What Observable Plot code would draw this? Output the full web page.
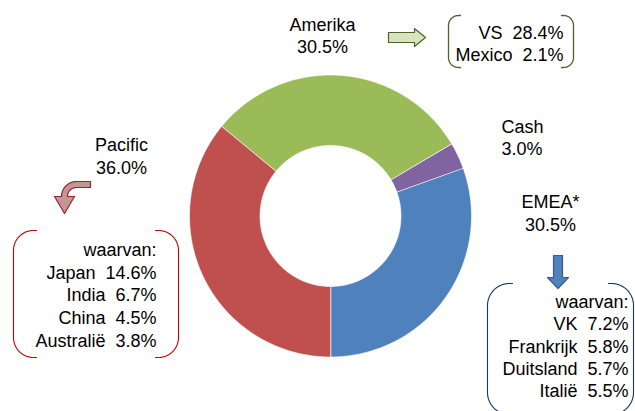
<!DOCTYPE html>
<html>
<head>
<meta charset="utf-8">
<script src="https://cdn.jsdelivr.net/npm/d3@7"></script>
<script src="https://cdn.jsdelivr.net/npm/@observablehq/plot@0.6"></script>
<style>
  html, body { margin: 0; padding: 0; background: #fff; }
  #chart svg { display: block; }
</style>
</head>
<body>
<div id="chart"></div>
<script>
// ---------- DATA ----------
const regions = ["EMEA*", "Pacific", "Amerika", "Cash"];
const shares = [30.5, 36.0, 30.5, 3.0];

const amerikaCountries = ["VS", "Mexico"];
const amerikaShares = [28.4, 2.1];

const pacificCountries = ["Japan", "India", "China", "Australië"];
const pacificShares = [14.6, 6.7, 4.5, 3.8];

const emeaCountries = ["VK", "Frankrijk", "Duitsland", "Italië"];
const emeaShares = [7.2, 5.8, 5.7, 5.5];

const breakdownHeader = "waarvan:";

// ---------- STYLE / LAYOUT ----------
const W = 635, H = 411;
const sliceColors = ["#4F81BD", "#C0504D", "#9BBB59", "#8064A2"];
const donut = {cx: 330, cy: 215.5, rOuter: 141, rInner: 70.5};
const font = "'Liberation Sans', Arial, sans-serif";
const fontSize = 18;

const fmt = v => v.toFixed(1) + "%";
const row = (name, v) => name + "\u00a0 " + fmt(v);

// text blocks: lines, anchor x, center y of first line, line step
const blocks = [
  {lines: [regions[2], fmt(shares[2])], x: 322, y: 25, step: 22, anchor: "middle"},
  {lines: [regions[1], fmt(shares[1])], x: 121, y: 145, step: 23, anchor: "middle"},
  {lines: [regions[3], fmt(shares[3])], x: 501, y: 127, step: 22, anchor: "start"},
  {lines: [regions[0], fmt(shares[0])], x: 550, y: 202, step: 23, anchor: "middle"},
  {lines: amerikaCountries.map((c, i) => row(c, amerikaShares[i])), x: 563, y: 33, step: 22, anchor: "end"},
  {lines: [breakdownHeader, ...pacificCountries.map((c, i) => row(c, pacificShares[i]))], x: 156, y: 250, step: 22.6, anchor: "end"},
  {lines: [breakdownHeader, ...emeaCountries.map((c, i) => row(c, emeaShares[i]))], x: 628, y: 302, step: 22.2, anchor: "end"}
];
const textRows = blocks.flatMap(b => b.lines.map((t, i) => ({text: t, x: b.x, y: b.y + i * b.step, anchor: b.anchor})));

// ---------- GEOMETRY HELPERS ----------
function arc(cx, cy, r, a0, a1) {
  const n = Math.max(2, Math.ceil(Math.abs(a1 - a0) / (Math.PI / 180)));
  return d3.range(n + 1).map(i => {
    const a = a0 + (a1 - a0) * i / n;
    return [cx + r * Math.sin(a), cy - r * Math.cos(a)];
  });
}

// donut slices from data
const total = d3.sum(shares);
const startAngle = Math.PI - 2 * Math.PI * shares[0] / total;
const pie = d3.pie().sort(null).value(d => d).startAngle(startAngle).endAngle(startAngle + 2 * Math.PI);
const arcs = pie(shares);
const slicePts = arcs.flatMap((a, k) => {
  const outer = arc(donut.cx, donut.cy, donut.rOuter, a.startAngle, a.endAngle);
  const inner = arc(donut.cx, donut.cy, donut.rInner, a.endAngle, a.startAngle);
  return [...outer, ...inner].map(([x, y]) => ({x, y, region: regions[k]}));
});

// bracket pair (double-bracket shape)
function bracketPair(x0, y0, x1, y1, r, tail, id) {
  const H2 = Math.PI / 2;
  const left = [[x0 + r + tail, y0], ...arc(x0 + r, y0 + r, r, 0, -H2), ...arc(x0 + r, y1 - r, r, -H2, -Math.PI), [x0 + r + tail, y1]];
  const right = [[x1 - r - tail, y0], ...arc(x1 - r, y0 + r, r, 0, H2), ...arc(x1 - r, y1 - r, r, H2, Math.PI), [x1 - r - tail, y1]];
  return [...left.map(([x, y]) => ({x, y, g: id + "L"})), ...right.map(([x, y]) => ({x, y, g: id + "R"}))];
}
const toPts = arr => arr.map(([x, y]) => ({x, y}));

const brackets = [
  {pts: bracketPair(448, 15, 573, 67, 10, 2, "a"), color: "#4F6228", w: 1.3},
  {pts: bracketPair(13, 230, 178, 357, 20, 3, "p"), color: "#C00000", w: 1.1},
  {pts: bracketPair(487, 283, 633, 414, 22, 3, "e"), color: "#17375E", w: 1.1}
];

// arrows
const greenArrow = toPts([[388, 32], [414, 32], [414, 28], [425, 37], [414, 46], [414, 42], [388, 42]]);
const blueArrow = toPts([[553, 255], [562, 255], [562, 277], [568, 277], [557.5, 288], [547, 277], [553, 277]]);
const redArrow = toPts([
  [90, 181], ...arc(76, 196, 15, 0, -Math.PI / 2),
  [54, 196], [64, 213], [74, 196],
  ...arc(76, 196, 9, -Math.PI / 2, 0), [90, 187]
]);

// ---------- PLOT ----------
const textMarks = ["start", "middle", "end"].map(anchor =>
  Plot.text(textRows.filter(d => d.anchor === anchor), {
    x: "x", y: "y", text: "text", textAnchor: anchor, lineAnchor: "middle", fontSize: fontSize, fill: "#000"
  })
);

const chart = Plot.plot({
  width: W,
  height: H,
  margin: 0,
  x: {domain: [0, W], range: [0, W], axis: null},
  y: {domain: [0, H], range: [0, H], axis: null},
  color: {domain: regions, range: sliceColors},
  style: {fontFamily: font, background: "#fff"},
  marks: [
    Plot.line(slicePts, {x: "x", y: "y", z: "region", fill: "region", stroke: "#fff", strokeWidth: 0.6, curve: "linear-closed"}),
    ...brackets.map(b => Plot.line(b.pts, {x: "x", y: "y", z: "g", stroke: b.color, strokeWidth: b.w, fill: "none"})),
    Plot.line(greenArrow, {x: "x", y: "y", curve: "linear-closed", fill: "#D7E4BD", stroke: "#4F6228", strokeWidth: 1.2}),
    Plot.line(blueArrow, {x: "x", y: "y", curve: "linear-closed", fill: "#4F81BD", stroke: "#385D8A", strokeWidth: 1.2}),
    Plot.line(redArrow, {x: "x", y: "y", curve: "linear-closed", fill: "#C39595", stroke: "#8E2B2B", strokeWidth: 1.2}),
    ...textMarks
  ]
});
document.getElementById("chart").appendChild(chart);
</script>
</body>
</html>
